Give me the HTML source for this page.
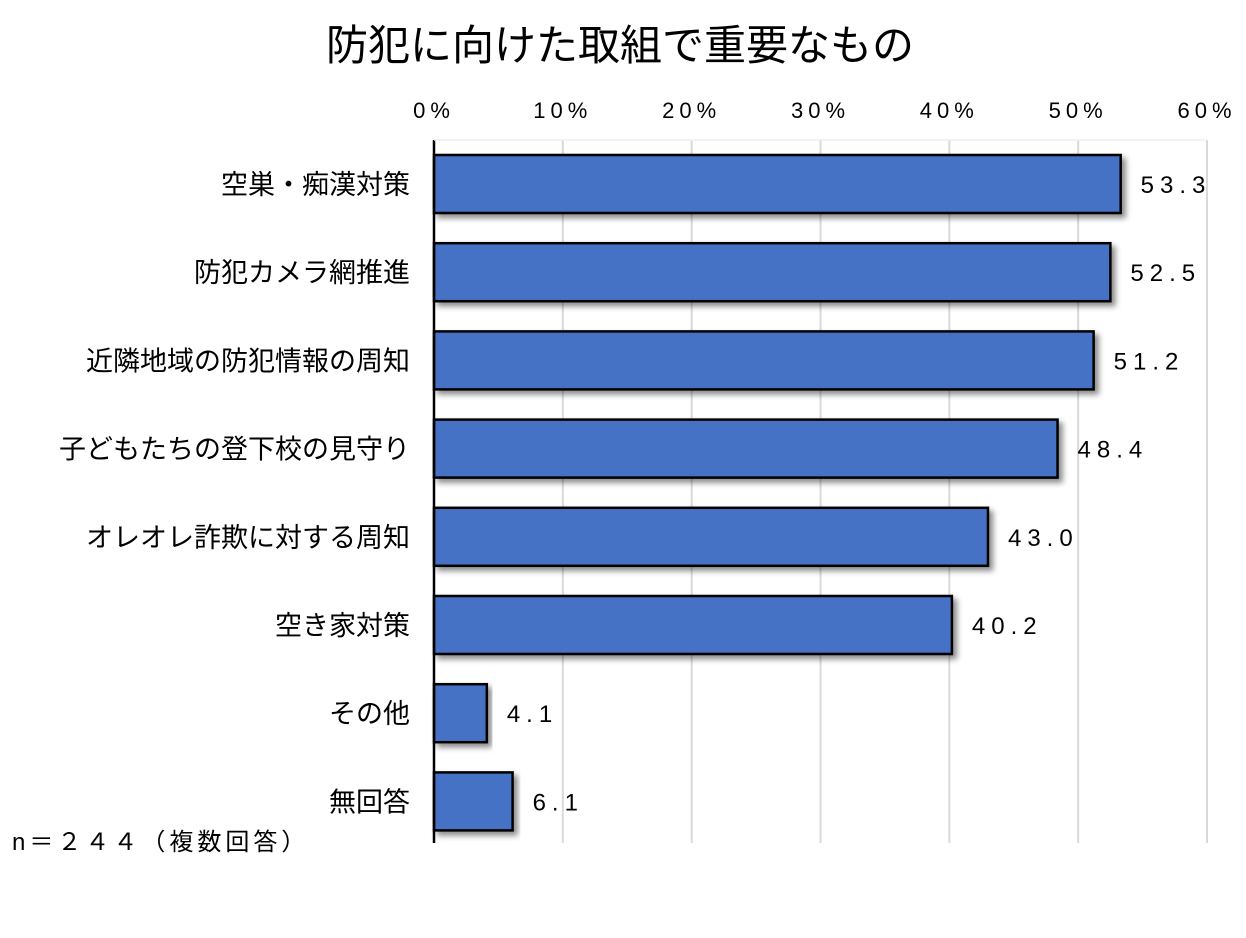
<!DOCTYPE html>
<html><head><meta charset="utf-8"><style>
body{margin:0;background:#fff;}
svg text{font-family:"Liberation Sans","Noto Sans CJK JP",sans-serif;}
</style></head><body>
<svg id="chart" width="1246" height="933" xmlns="http://www.w3.org/2000/svg">
<defs><filter id="sh" x="-5%" y="-20%" width="115%" height="150%"><feDropShadow dx="4" dy="4" stdDeviation="3" flood-color="#000" flood-opacity="0.45"/></filter></defs>
<text x="620" y="60" font-size="42" text-anchor="middle" fill="#000">防犯に向けた取組で重要なもの</text>
<g id="grid"></g>
<g id="ticks"></g>
<g id="bars"></g>
<g id="cats"></g>
<g id="vals"></g>
<line x1="434" y1="140" x2="434" y2="843" stroke="#000" stroke-width="2.5"/>
<line x1="434" y1="140" x2="1207" y2="140" stroke="#eee" stroke-width="1.5"/>
<text x="12" y="850" font-size="24" fill="#000" letter-spacing="4">n＝２４４（複数回答）</text>
</svg>
<script>
const categories=["空巣・痴漢対策","防犯カメラ網推進","近隣地域の防犯情報の周知","子どもたちの登下校の見守り","オレオレ詐欺に対する周知","空き家対策","その他","無回答"];
const values=[53.3,52.5,51.2,48.4,43.0,40.2,4.1,6.1];
const tickValues=[0,10,20,30,40,50,60];
const tickLabels=["0%","10%","20%","30%","40%","50%","60%"];
const NS="http://www.w3.org/2000/svg";
const x0=434,x1=1207,vmax=60;
const xs=v=>x0+(x1-x0)*v/vmax;
const top0=155,pitch=88.2,bh=58;
const ys=i=>top0+i*pitch;
function mk(t,a,p){const e=document.createElementNS(NS,t);for(const k in a)e.setAttribute(k,a[k]);p.appendChild(e);return e;}
const g=document.getElementById('grid'),tk=document.getElementById('ticks'),b=document.getElementById('bars'),c=document.getElementById('cats'),vl=document.getElementById('vals');
tickValues.forEach((v,i)=>{
 if(v>0){const l=mk('line',{x1:xs(v),x2:xs(v),y1:140,y2:843,stroke:'#d9d9d9','stroke-width':2},g);
 
 }
 const t=mk('text',{x:xs(v)+(v==0?0:0),y:118,'font-size':22,'text-anchor':'middle','letter-spacing':5},tk);
 t.textContent=tickLabels[i];
 
 
});
values.forEach((v,i)=>{
 const r=mk('rect',{x:x0,y:ys(i),width:xs(v)-x0,height:bh,fill:'#4472c4',stroke:'#000','stroke-width':2.5,filter:'url(#sh)'},b);
 
 
 const t=mk('text',{x:xs(v)+20,y:ys(i)+bh/2+9,'font-size':24,'letter-spacing':6},vl);
 t.textContent=v.toFixed(1);
 
 
 const ct=mk('text',{x:410,y:ys(i)+bh/2+10,'font-size':27,'text-anchor':'end'},c);
 ct.textContent=categories[i];
 
 
});
</script>
</body></html>
